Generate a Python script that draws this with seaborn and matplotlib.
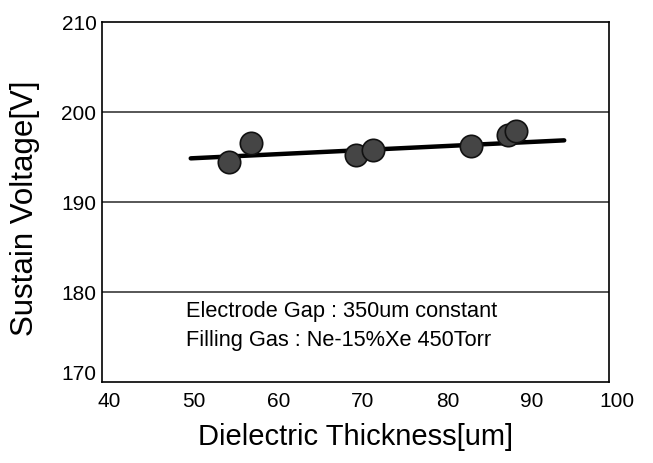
import matplotlib
matplotlib.use("Agg")
import matplotlib.pyplot as plt
import matplotlib.transforms as mtransforms
import seaborn as sns
import pandas as pd

# Data
thickness = [55.0, 57.6, 70.0, 72.1, 83.7, 88.0, 89.0]
voltage = [194.4, 196.6, 195.2, 195.8, 196.2, 197.5, 197.9]
fit_x = [50.5, 94.7]
fit_y = [194.85, 196.85]
x_ticks = [40, 50, 60, 70, 80, 90, 100]
y_ticks = [170, 180, 190, 200, 210]
note_lines = ["Electrode Gap : 350um constant", "Filling Gas : Ne-15%Xe 450Torr"]

sns.set_theme(style="white")
plt.rcParams["font.family"] = ["Liberation Sans", "DejaVu Sans"]

df = pd.DataFrame({"x": thickness, "y": voltage})
fit = pd.DataFrame({"x": fit_x, "y": fit_y})

fig = plt.figure(figsize=(6.53, 4.64), dpi=100)
ax = fig.add_axes([102 / 653, 1 - 383 / 464, (609 - 102) / 653, (383 - 23) / 464])

ax.set_xlim(40, 100)
ax.set_ylim(170, 210)
for yv in [180, 190, 200]:
    ax.axhline(yv, color="#3a3a3a", lw=1.2, zorder=1)

sns.lineplot(data=fit, x="x", y="y", ax=ax, color="black", lw=3.2, zorder=3)
sns.scatterplot(data=df, x="x", y="y", ax=ax, s=260, color="#454545",
                edgecolor="#111111", linewidth=1.2, zorder=4)

ax.set_xticks(x_ticks)
ax.set_yticks(y_ticks)
ax.set_xticklabels([str(v) for v in x_ticks])
ax.set_yticklabels([str(v) for v in y_ticks])
ax.tick_params(axis="x", direction="in", length=7, width=1, labelsize=15, pad=6.5, colors="black")
ax.tick_params(axis="y", direction="out", length=0, width=1, labelsize=15, pad=4, colors="black")

for s in ax.spines.values():
    s.set_visible(True)
    s.set_color("black")
    s.set_linewidth(1.2)

# shift x tick labels slightly right like the reference
off = mtransforms.ScaledTranslation(7.5 / 100, 0, fig.dpi_scale_trans)
for lbl in ax.get_xticklabels():
    lbl.set_transform(lbl.get_transform() + off)
yl = ax.get_yticklabels()
yl[0].set_transform(yl[0].get_transform() + mtransforms.ScaledTranslation(0, 10 / 100, fig.dpi_scale_trans))

ax.set_xlabel("Dielectric Thickness[um]", fontsize=21, va="center", color="black")
ax.xaxis.set_label_coords(0.5, (383 - 437) / 360)
ax.set_ylabel("Sustain Voltage[V]", fontsize=22.5, va="center", color="black")
ax.yaxis.set_label_coords((25.5 - 102) / 507, (383 - 208) / 360)

ax.text(50.0, 170 + (382 - 310.5) / 8.975, note_lines[0], fontsize=15.7, va="center", ha="left", color="black")
ax.text(50.0, 170 + (382 - 340) / 8.975, note_lines[1], fontsize=15.7, va="center", ha="left", color="black")

fig.savefig("out.png", dpi=100)
